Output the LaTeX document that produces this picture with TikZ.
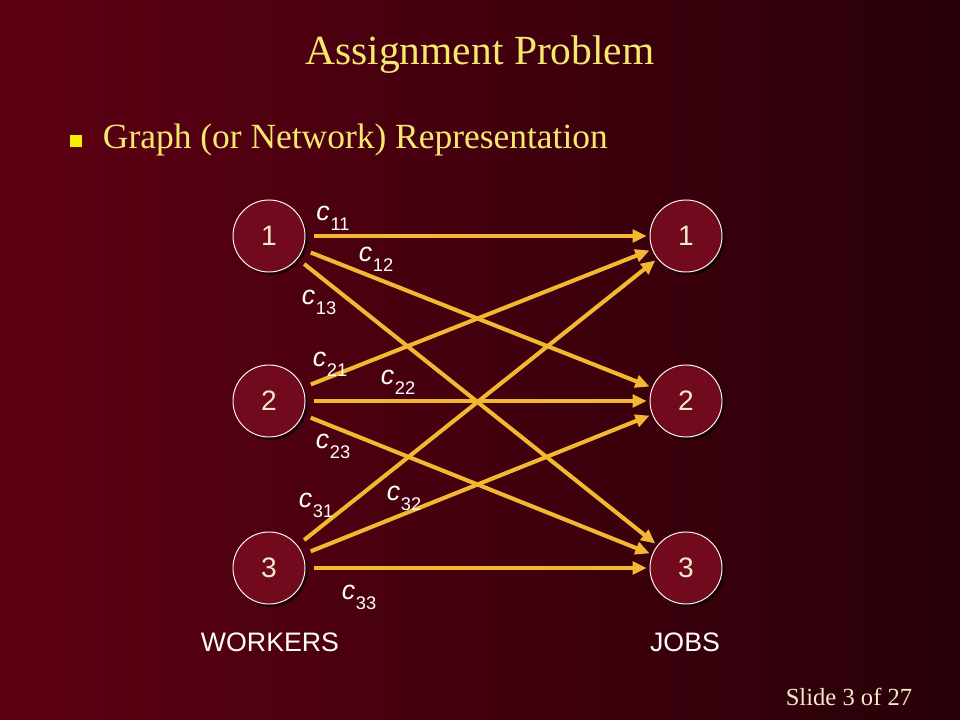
\documentclass[tikz,border=0pt]{standalone}
\usepackage{fontspec}
\setmainfont{Liberation Serif}
\setsansfont{Liberation Sans}
\usepackage{tikz}
\usetikzlibrary{arrows.meta,positioning,shadows}
\definecolor{bgleft}{RGB}{94,0,20}
\definecolor{bgmid}{RGB}{78,0,16}
\definecolor{bgright}{RGB}{40,0,8}
\definecolor{nodered}{RGB}{112,10,28}
\definecolor{arrgold}{RGB}{242,184,50}
\definecolor{titleyel}{RGB}{245,232,110}
\definecolor{bulyel}{RGB}{245,240,0}
\definecolor{cream}{RGB}{242,234,200}
\newcommand{\cst}[1]{{\itshape c}\kern0.5pt\raisebox{-.7ex}{\fontsize{13}{13}\selectfont #1}}
\tikzset{
  vnode/.style={circle, draw=white!85!pink, line width=0.7pt, fill=nodered,
      minimum size=1.8cm, inner sep=0pt, text=cream, font=\sffamily\fontsize{20}{20}\selectfont,
      drop shadow={shadow xshift=2pt, shadow yshift=-2pt, fill=black, opacity=0.6}},
  clab/.style={text=white, font=\sffamily\fontsize{19}{19}\selectfont, inner sep=0pt},
  side/.style={text=white, font=\sffamily\fontsize{19}{19}\selectfont},
  arr/.style={-{Triangle[length=10pt,width=9pt]}, arrgold, line width=2.9pt,
      shorten <=6pt, shorten >=2pt},
}
\begin{document}
\begin{tikzpicture}[x=0.025cm, y=-0.025cm]
  \useasboundingbox (0,0) rectangle (960,720);
  \shade[left color=bgleft, middle color=bgmid, right color=bgright] (0,0) rectangle (960,720);
  % headings
  \node[text=titleyel, font=\fontsize{29.5}{32}\selectfont] (title) at (480,55) {Assignment Problem};
  \node[fill=bulyel, minimum size=8.5pt, inner sep=0pt] (bul) at (76,141) {};
  \node[text=titleyel, font=\fontsize{25.2}{28}\selectfont, anchor=west] (sub) at (98,140) {Graph (or Network) Representation};
  % workers and jobs
  \node[vnode] (w1) at (269,236) {1};
  \node[vnode] (w2) at (269,401) {2};
  \node[vnode] (w3) at (269,568) {3};
  \node[vnode] (j1) at (686,236) {1};
  \node[vnode] (j2) at (686,401) {2};
  \node[vnode] (j3) at (686,568) {3};
  \foreach \i in {1,2,3}
    \foreach \j in {1,2,3}
      \draw[arr] (w\i) -- (j\j);
  % costs
  \node[clab] (c11) at (333,218) {\cst{11}};
  \node[clab] (c12) at (376,259) {\cst{12}};
  \node[clab] (c13) at (319,302) {\cst{13}};
  \node[clab] (c21) at (330,364) {\cst{21}};
  \node[clab] (c22) at (398,382) {\cst{22}};
  \node[clab] (c23) at (333,446) {\cst{23}};
  \node[clab] (c31) at (316,505) {\cst{31}};
  \node[clab] (c32) at (404,498) {\cst{32}};
  \node[clab] (c33) at (359,597) {\cst{33}};
  \node[side] (wk) at (270,642) {WORKERS};
  \node[side] (jb) at (685,642) {JOBS};
  \node[text=cream, font=\fontsize{17.5}{20}\selectfont] (sl) at (849,697) {Slide 3 of 27};
\end{tikzpicture}
\end{document}
